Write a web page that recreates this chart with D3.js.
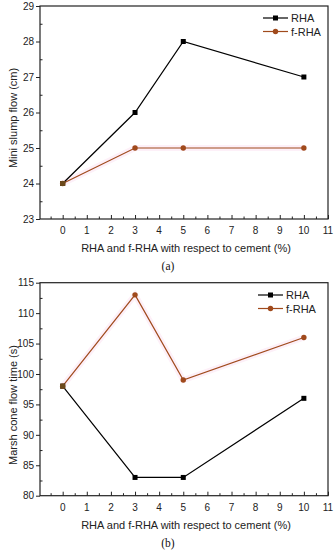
<!DOCTYPE html>
<html>
<head>
<meta charset="utf-8">
<script src="https://cdn.jsdelivr.net/npm/d3@7"></script>
<style>
  body { margin: 0; background: #fff; }
  svg { display: block; font-family: "Liberation Sans", Arial, sans-serif; }
</style>
</head>
<body>
<div id="chart-container"></div>
<script>
// Data
const dosages = [0, 3, 5, 10]
const seriesNames = ['RHA', 'f-RHA']
const slumpRHA = [24, 26, 28, 27]
const slumpFRHA = [24, 25, 25, 25]
const marshRHA = [98, 83, 83, 96]
const marshFRHA = [98, 113, 99, 106]
const xTicks = [0, 1, 2, 3, 4, 5, 6, 7, 8, 9, 10, 11]
const slumpTicks = [23, 24, 25, 26, 27, 28, 29]
const marshTicks = [80, 85, 90, 95, 100, 105, 110, 115]

const width = 335
const height = 550
const rhaColor = '#000000'
const frhaColor = '#a04a1c'

const svg = d3.select('#chart-container')
    .append('svg')
    .attr('width', width)
    .attr('height', height)

function drawPanel(opts) {
    const g = svg.append('g')
    const x = d3.scaleLinear().domain([-0.94, 11]).range([40, 328])
    const y = d3.scaleLinear().domain(opts.yDomain).range([opts.bottom, opts.top])

    // frame
    g.append('rect')
        .attr('x', x.range()[0]).attr('y', opts.top)
        .attr('width', x.range()[1] - x.range()[0])
        .attr('height', opts.bottom - opts.top)
        .attr('fill', 'none').attr('stroke', '#222').attr('stroke-width', 1.2)

    // x axis: ticks point up into the plot, minor every 0.5
    const xMinor = d3.range(-0.5, 11.01, 0.5).filter(v => !Number.isInteger(v))
    const xAxis = d3.axisTop(x).tickValues(xTicks).tickSize(4).tickFormat('')
    g.append('g').attr('transform', `translate(0,${opts.bottom})`).call(xAxis)
    g.append('g').attr('transform', `translate(0,${opts.bottom})`)
        .call(d3.axisTop(x).tickValues(xMinor).tickSize(2.5).tickFormat(''))
    g.selectAll('.tick text').remove()
    g.selectAll('.domain').remove()
    g.selectAll('line').attr('stroke', '#222')

    g.selectAll('.xlab')
        .data(xTicks)
        .enter()
        .append('text')
        .attr('x', d => x(d))
        .attr('y', opts.bottom + 15)
        .attr('text-anchor', 'middle')
        .attr('font-size', 10)
        .attr('fill', '#222')
        .text(d => d)

    // y axis: major ticks outward, minor inward
    const yAxisG = g.append('g').attr('transform', `translate(${x.range()[0]},0)`)
    yAxisG.call(d3.axisLeft(y).tickValues(opts.yTicks).tickSize(4).tickPadding(2).tickFormat(d3.format('d')))
    yAxisG.select('.domain').remove()
    yAxisG.selectAll('line').attr('stroke', '#222')
    yAxisG.selectAll('text').attr('font-size', 10).attr('fill', '#222')
        .attr('font-family', '"Liberation Sans", Arial, sans-serif')
    const yMinor = opts.yTicks.slice(1).map((t, i) => (t + opts.yTicks[i]) / 2)
    g.append('g').attr('transform', `translate(${x.range()[0]},0)`)
        .call(d3.axisRight(y).tickValues(yMinor).tickSize(2.5).tickFormat(''))
        .call(s => s.select('.domain').remove())
        .selectAll('line').attr('stroke', '#222')

    // axis titles
    g.append('text')
        .attr('transform', `translate(13,${opts.yTitleY}) rotate(-90)`)
        .attr('text-anchor', 'middle')
        .attr('dominant-baseline', 'central')
        .attr('font-size', 11)
        .attr('fill', '#222')
        .text(opts.yTitle)
    g.append('text')
        .attr('x', 186)
        .attr('y', opts.bottom + 33)
        .attr('text-anchor', 'middle')
        .attr('font-size', 11)
        .attr('fill', '#222')
        .text('RHA and f-RHA with respect to cement (%)')
    g.append('text')
        .attr('x', 168)
        .attr('y', opts.bottom + 51)
        .attr('text-anchor', 'middle')
        .attr('font-size', 11.5)
        .attr('font-family', '"Liberation Serif", "Times New Roman", serif')
        .attr('fill', '#111')
        .text(opts.panelLabel)

    // series
    const line = d3.line().x(d => x(d[0])).y(d => y(d[1]))
    const rhaPts = dosages.map((d, i) => [d, opts.rha[i]])
    const frhaPts = dosages.map((d, i) => [d, opts.frha[i]])

    g.append('path').datum(frhaPts).attr('d', line)
        .attr('fill', 'none').attr('stroke', '#fdf0f8').attr('stroke-width', 6)
    g.append('path').datum(rhaPts).attr('d', line)
        .attr('fill', 'none').attr('stroke', rhaColor).attr('stroke-width', 1.2)
    g.append('path').datum(frhaPts).attr('d', line)
        .attr('fill', 'none').attr('stroke', frhaColor).attr('stroke-width', 1.2)

    g.selectAll('.sq')
        .data(rhaPts)
        .enter()
        .append('rect')
        .attr('x', d => x(d[0]) - 2.5)
        .attr('y', d => y(d[1]) - 2.5)
        .attr('width', 5).attr('height', 5)
        .attr('fill', rhaColor)
    g.selectAll('.dot')
        .data(frhaPts)
        .enter()
        .append('circle')
        .attr('cx', d => x(d[0]))
        .attr('cy', d => y(d[1]))
        .attr('r', 2.7)
        .attr('fill', frhaColor)
    // first point where both coincide looks olive-brown
    g.append('rect')
        .attr('x', x(dosages[0]) - 2.5).attr('y', y(opts.rha[0]) - 2.5)
        .attr('width', 5).attr('height', 5)
        .attr('fill', '#6b4a1c')

    // legend
    const legend = g.append('g')
        .attr('transform', `translate(${opts.legendX},${opts.legendY})`)
    const items = legend.selectAll('.legend-item')
        .data(seriesNames)
        .enter()
        .append('g')
        .attr('transform', (d, i) => `translate(0,${i * 13.5})`)
    items.append('line')
        .attr('x1', 0).attr('x2', 25).attr('y1', 0).attr('y2', 0)
        .attr('stroke', (d, i) => i === 0 ? rhaColor : frhaColor)
        .attr('stroke-width', 1.2)
    items.filter((d, i) => i === 0).append('rect')
        .attr('x', 10).attr('y', -2.5).attr('width', 5).attr('height', 5)
        .attr('fill', rhaColor)
    items.filter((d, i) => i === 1).append('circle')
        .attr('cx', 12.5).attr('cy', 0).attr('r', 2.7)
        .attr('fill', frhaColor)
    items.append('text')
        .attr('x', 28)
        .attr('y', 4)
        .attr('font-size', 11)
        .attr('fill', '#222')
        .text(d => d)
}

drawPanel({
    top: 6, bottom: 219,
    yDomain: [23, 29], yTicks: slumpTicks,
    yTitle: 'Mini slump flow (cm)', yTitleY: 118,
    rha: slumpRHA, frha: slumpFRHA,
    panelLabel: '(a)',
    legendX: 263, legendY: 18
})

drawPanel({
    top: 282.7, bottom: 495.7,
    yDomain: [80, 115], yTicks: marshTicks,
    yTitle: 'Marsh cone flow time (s)', yTitleY: 405,
    rha: marshRHA, frha: marshFRHA,
    panelLabel: '(b)',
    legendX: 258, legendY: 295
})
</script>
</body>
</html>
